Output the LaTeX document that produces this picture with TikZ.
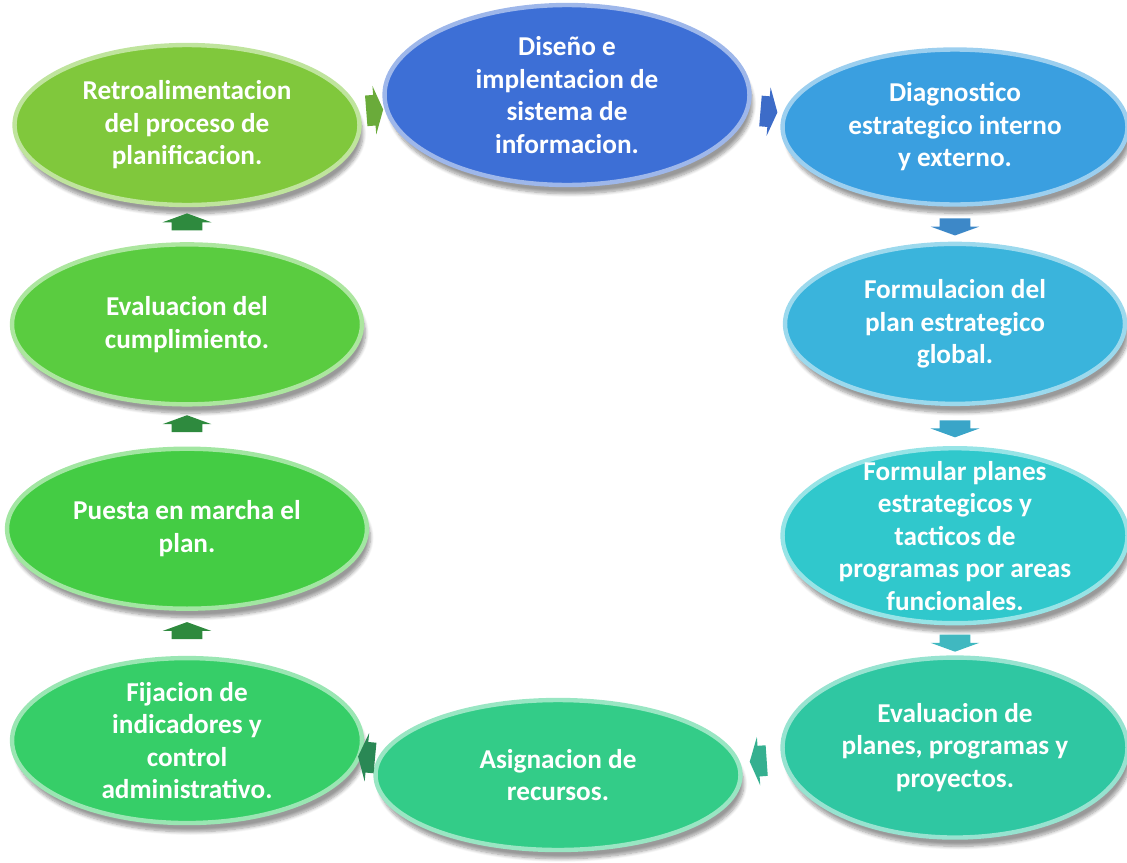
\documentclass[tikz,border=0pt]{standalone}
\usepackage{fontspec}
\setmainfont{Carlito}
\usetikzlibrary{shapes.geometric, shapes.arrows, positioning, shadows.blur}
\definecolor{g1}{HTML}{80C83C}
\definecolor{g2}{HTML}{3D6FD6}
\definecolor{g3}{HTML}{3A9FE0}
\definecolor{g4}{HTML}{3AB4DC}
\definecolor{g5}{HTML}{30C8CC}
\definecolor{g6}{HTML}{2FC7A2}
\definecolor{g7}{HTML}{33CC88}
\definecolor{g8}{HTML}{36CE68}
\definecolor{g9}{HTML}{44CC44}
\definecolor{g10}{HTML}{5ACC40}
\definecolor{f1}{HTML}{6AAB3A}
\definecolor{f2}{HTML}{3D6CC8}
\definecolor{f3}{HTML}{3D88C8}
\definecolor{f4}{HTML}{3AA5C8}
\definecolor{f5}{HTML}{40B8C0}
\definecolor{f6}{HTML}{35B090}
\definecolor{f7}{HTML}{2A8855}
\definecolor{f8}{HTML}{2E8A3E}
\tikzset{
bub/.style={ellipse, fill=#1, draw=#1!50!white, line width=2.5pt, inner sep=0pt,
  blur shadow={shadow xshift=2pt, shadow yshift=-5pt, shadow blur steps=8, shadow opacity=40}}, % the coloured steps
txt/.style={text=white, font=\bfseries\fontsize{15.5}{18.5}\selectfont, align=center}, % white text on the steps
flow/.style={single arrow, fill=#1, draw=none, inner xsep=0pt, inner ysep=0.3cm, minimum height=0.34cm,
  single arrow head extend=0.18cm, single arrow tip angle=140, sloped, allow upside down, midway}, % block arrows between steps
}
\begin{document}
\begin{tikzpicture}[x=0.02cm, y=-0.02cm]
\useasboundingbox (0,0) rectangle (1127,863);
\node[bub=g1, minimum width=6.9cm, minimum height=3.2cm,
  label={[txt]center:{Retroalimentacion\\del proceso de\\planificacion.}}] (p1) at (187,125) {};
\node[bub=g2, minimum width=7.3cm, minimum height=3.6cm,
  label={[txt]center:{Diseño e\\implentacion de\\sistema de\\informacion.}}] (p2) at (567,95) {};
\node[bub=g3, minimum width=6.9cm, minimum height=3.1cm,
  label={[txt]center:{Diagnostico\\estrategico interno\\y externo.}}] (p3) at (955,127) {};
\node[bub=g4, minimum width=6.8cm, minimum height=3.2cm, below=0.7cm of p3,
  label={[txt]center:{Formulacion del\\plan estrategico\\global.}}] (p4) {};
\node[bub=g5, minimum width=6.9cm, minimum height=3.5cm, below=0.8cm of p4,
  label={[txt]center:{Formular planes\\estrategicos y\\tacticos de\\programas por areas\\funcionales.}}] (p5) {};
\node[bub=g6, minimum width=6.9cm, minimum height=3.6cm, below=0.6cm of p5,
  label={[txt]center:{Evaluacion de\\planes, programas y\\proyectos.}}] (p6) {};
\node[bub=g7, minimum width=7.3cm, minimum height=3.0cm,
  label={[txt]center:{Asignacion de\\recursos.}}] (p7) at (558,775) {};
\node[bub=g10, minimum width=7.0cm, minimum height=3.2cm, below=0.7cm of p1,
  label={[txt]center:{Evaluacion del\\cumplimiento.}}] (p10) {};
\node[bub=g9, minimum width=7.2cm, minimum height=3.2cm, below=0.8cm of p10,
  label={[txt]center:{Puesta en marcha el\\plan.}}] (p9) {};
\node[bub=g8, minimum width=7.0cm, minimum height=3.3cm, below=0.9cm of p9,
  label={[txt]center:{Fijacion de\\indicadores y\\control\\administrativo.}}] (p8) {};
\path[every edge/.style={draw=none}]
    (p1) edge node[flow=f1] {} (p2)
    (p2) edge node[flow=f2] {} (p3)
    (p3) edge node[flow=f3] {} (p4)
    (p4) edge node[flow=f4] {} (p5)
    (p5) edge node[flow=f5] {} (p6)
    (p6) edge node[flow=f6] {} (p7)
    (p7) edge node[flow=f7] {} (p8)
    (p8) edge node[flow=f8] {} (p9)
    (p9) edge node[flow=f8] {} (p10)
    (p10) edge node[flow=f8] {} (p1)
    ;
\end{tikzpicture}
\end{document}
